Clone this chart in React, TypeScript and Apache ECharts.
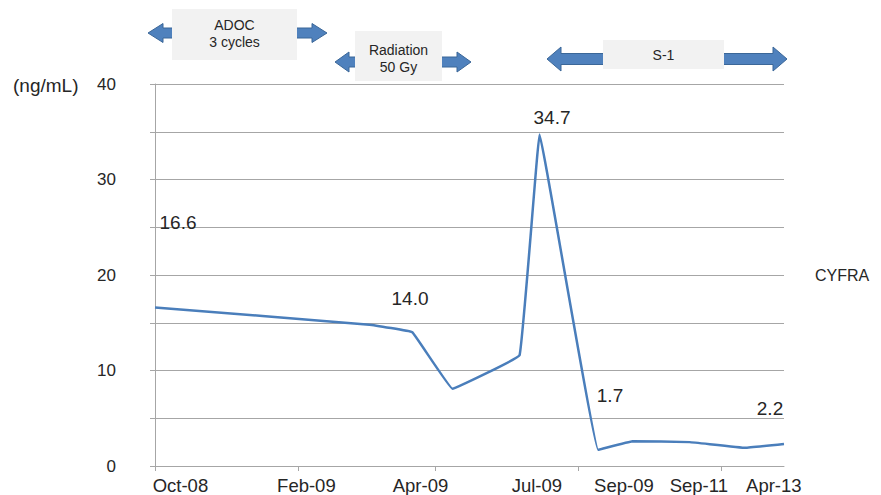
import React, { useEffect, useRef } from "react";
import * as echarts from "echarts";

// Time positions on the x axis (in tick-interval units) and CYFRA values (ng/mL)
const xPositions = [0, 1.5, 1.8, 2.08, 2.55, 2.69, 3.1, 3.34, 3.74, 4.13, 4.4];
const cyfraValues = [16.6, 14.8, 14.0, 8.1, 11.6, 34.7, 1.7, 2.6, 2.5, 1.9, 2.3];

// X axis tick marks and date labels
const xTickValues = [0, 1.0, 1.958, 2.958, 3.958];
const xLabelValues = [0.178, 1.059, 1.857, 2.671, 3.28, 3.804, 4.329];
const xLabelNames = ["Oct-08", "Feb-09", "Apr-09", "Jul-09", "Sep-09", "Sep-11", "Apr-13"];

// Y axis
const yMin = 0;
const yMax = 40;
const yInterval = 5;

// Data labels shown on the chart
const dataLabelTexts = ["16.6", "14.0", "34.7", "1.7", "2.2"];
const seriesName = "CYFRA";
const unitLabel = "(ng/mL)";

// Treatment annotations
const treatments = [
  { lines: ["ADOC", "3 cycles"] },
  { lines: ["Radiation", "50 Gy"] },
  { lines: ["S-1"] },
];

const FONT = "'Liberation Sans', Arial, sans-serif";
const TEXT = "#262626";
const GRID = "#A6A6A6";
const BLUE = "#4A7EBB";

function doubleArrow(xL: number, xR: number, c: number, h: number, H: number, s: number) {
  return [
    [xL, c],
    [xL + h, c - H],
    [xL + h, c - s],
    [xR - h, c - s],
    [xR - h, c - H],
    [xR, c],
    [xR - h, c + H],
    [xR - h, c + s],
    [xL + h, c + s],
    [xL + h, c + H],
  ];
}

export default function App() {
  const ref = useRef<HTMLDivElement>(null);

  useEffect(() => {
    document.body.style.margin = "0";
    const chart = echarts.init(ref.current!, undefined, { renderer: "svg" });

    const arrowGeom = [
      { arrow: [148, 327, 33, 15, 9.5, 5], box: [172, 9, 125, 51], textY: [25, 42] },
      { arrow: [335, 471, 62, 14, 10, 5], box: [355, 31, 87, 50], textY: [50, 67] },
      { arrow: [547, 787, 59, 14, 12, 5.5], box: [603, 40, 121, 29], textY: [55] },
    ];

    const graphics: any[] = [];
    treatments.forEach((t, i) => {
      const g = arrowGeom[i];
      const [xL, xR, c, h, H, s] = g.arrow;
      graphics.push({
        type: "polygon",
        shape: { points: doubleArrow(xL, xR, c, h, H, s) },
        style: { fill: "#4F81BD", stroke: "#3B6798", lineWidth: 1 },
        z: 10,
      });
      const [bx, by, bw, bh] = g.box;
      graphics.push({
        type: "rect",
        shape: { x: bx, y: by, width: bw, height: bh },
        style: { fill: "#F2F2F2" },
        z: 11,
      });
      t.lines.forEach((line, j) => {
        graphics.push({
          type: "text",
          x: bx + bw / 2,
          y: g.textY[j],
          style: {
            text: line,
            fill: TEXT,
            font: `14px ${FONT}`,
            textAlign: "center",
            textVerticalAlign: "middle",
          },
          z: 12,
        });
      });
    });

    const labelPos = [
      [178, 222],
      [410, 298],
      [552, 117],
      [610, 395],
      [770, 408],
    ];
    dataLabelTexts.forEach((txt, i) => {
      graphics.push({
        type: "text",
        x: labelPos[i][0],
        y: labelPos[i][1],
        style: {
          text: txt,
          fill: TEXT,
          font: `19px ${FONT}`,
          textAlign: "center",
          textVerticalAlign: "middle",
        },
        z: 12,
      });
    });

    graphics.push({
      type: "text",
      x: 815,
      y: 275,
      style: { text: seriesName, fill: TEXT, font: `16px ${FONT}`, textAlign: "left", textVerticalAlign: "middle" },
    });
    graphics.push({
      type: "text",
      x: 13,
      y: 85,
      style: { text: unitLabel, fill: TEXT, font: `19px ${FONT}`, textAlign: "left", textVerticalAlign: "middle" },
    });

    chart.setOption({
      animation: false,
      backgroundColor: "#FFFFFF",
      grid: { left: 155, right: 97, top: 84, bottom: 28, containLabel: false },
      xAxis: {
        type: "value",
        min: 0,
        max: 4.4,
        axisLine: { show: true, lineStyle: { color: GRID, width: 1 } },
        axisTick: {
          show: true,
          length: 5,
          lineStyle: { color: GRID },
          customValues: xTickValues,
        },
        axisLabel: {
          show: true,
          margin: 10,
          color: TEXT,
          fontSize: 18.5,
          fontFamily: FONT,
          customValues: xLabelValues,
          formatter: (v: number) => {
            const idx = xLabelValues.findIndex((p) => Math.abs(p - v) < 1e-6);
            return idx >= 0 ? xLabelNames[idx] : "";
          },
        },
        splitLine: { show: false },
      },
      yAxis: {
        type: "value",
        min: yMin,
        max: yMax,
        interval: yInterval,
        axisLine: { show: true, lineStyle: { color: GRID, width: 1 } },
        axisTick: { show: true, length: 5, lineStyle: { color: GRID } },
        axisLabel: {
          margin: 39,
          color: TEXT,
          fontSize: 17,
          fontFamily: FONT,
          formatter: (v: number) => (v % 10 === 0 ? String(v) : ""),
        },
        splitLine: { show: true, lineStyle: { color: GRID, width: 1 } },
      },
      series: [
        {
          name: seriesName,
          type: "line",
          data: xPositions.map((x, i) => [x, cyfraValues[i]]),
          smooth: 0.05,
          showSymbol: false,
          symbol: "none",
          lineStyle: { color: BLUE, width: 2.5 },
          z: 5,
        },
      ],
      graphic: graphics,
    });

    return () => chart.dispose();
  }, []);

  return (
    <div
      ref={ref}
      style={{ position: "absolute", left: 0, top: 0, width: 881, height: 495 }}
    />
  );
}
